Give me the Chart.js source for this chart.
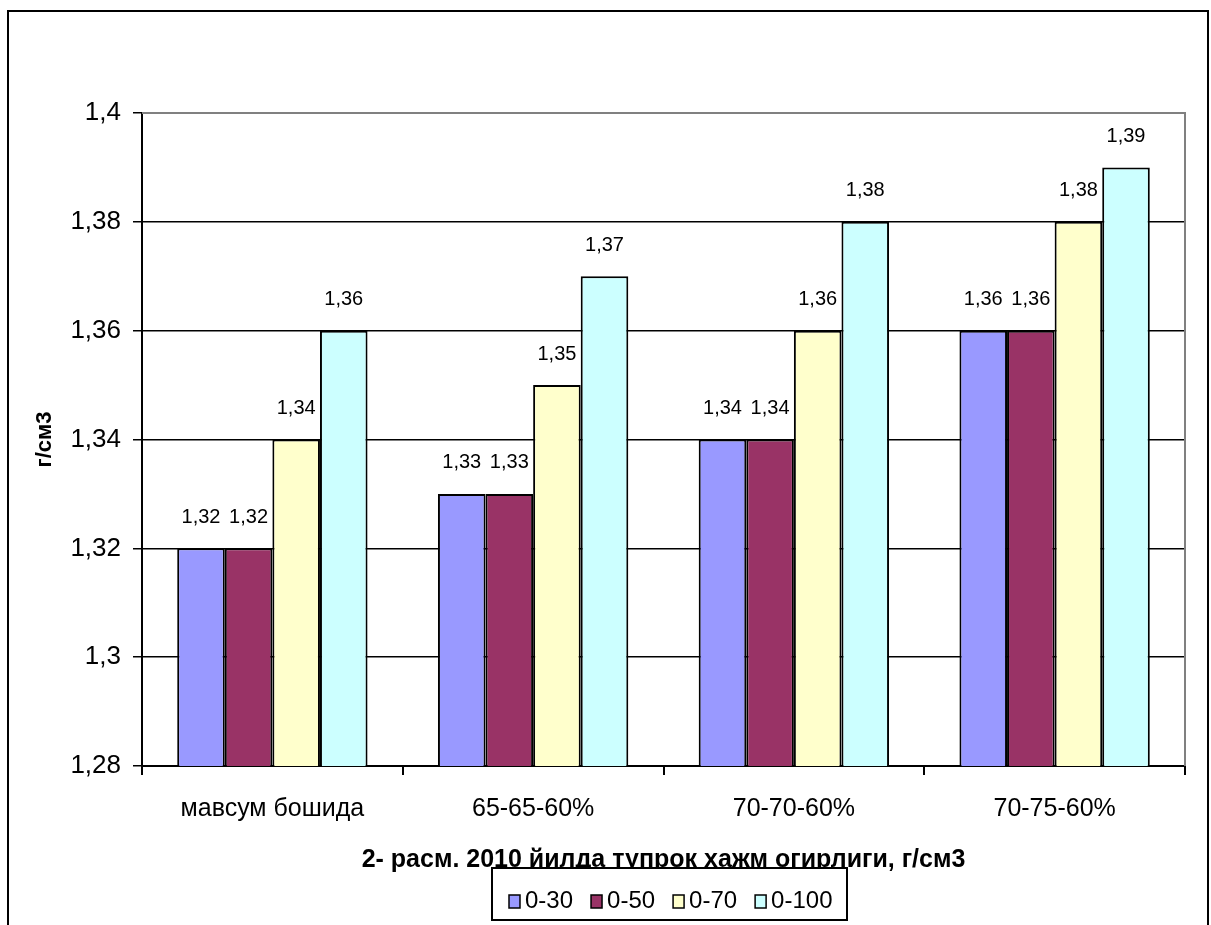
<!DOCTYPE html>
<html>
<head>
<meta charset="utf-8">
<script src="https://cdn.jsdelivr.net/npm/chart.js@4.4.0/dist/chart.umd.min.js"></script>
<style>
  html, body { margin: 0; padding: 0; background: #fff; }
</style>
</head>
<body>
<canvas id="chart" width="1211" height="925"></canvas>
<script>
// chart data
const categories = ['мавсум бошида', '65-65-60%', '70-70-60%', '70-75-60%'];
const seriesNames = ['0-30', '0-50', '0-70', '0-100'];
const depth0to30 = [1.32, 1.33, 1.34, 1.36];
const depth0to50 = [1.32, 1.33, 1.34, 1.36];
const depth0to70 = [1.34, 1.35, 1.36, 1.38];
const depth0to100 = [1.36, 1.37, 1.38, 1.39];
const seriesColors = ['#9999FF', '#993366', '#FFFFCC', '#CCFFFF'];
const yMin = 1.28, yMax = 1.4, yStep = 0.02;

const FONT = "'Liberation Sans', Arial, sans-serif";
const fmt = v => String(Math.round(v * 100) / 100).replace('.', ',');

const seriesValues = [depth0to30, depth0to50, depth0to70, depth0to100];

// value labels above each bar
const barLabels = {
  id: 'barLabels',
  afterDatasetsDraw(chart) {
    const { ctx } = chart;
    ctx.save();
    ctx.font = `20px ${FONT}`;
    ctx.fillStyle = '#000';
    ctx.textAlign = 'center';
    ctx.textBaseline = 'middle';
    chart.data.datasets.forEach((ds, i) => {
      chart.getDatasetMeta(i).data.forEach((bar, j) => {
        ctx.fillText(fmt(ds.data[j]), bar.x, bar.y - 31);
      });
    });
    ctx.restore();
  }
};

// outer frame, plot border, boxed legend over the title
const frameAndLegend = {
  id: 'frameAndLegend',
  afterDraw(chart) {
    const { ctx, chartArea: a } = chart;
    ctx.save();
    ctx.lineWidth = 2;
    ctx.strokeStyle = '#808080';
    ctx.beginPath();
    ctx.moveTo(a.left, a.top);
    ctx.lineTo(a.right, a.top);
    ctx.lineTo(a.right, a.bottom);
    ctx.stroke();

    ctx.strokeStyle = '#000';
    ctx.strokeRect(8, 11, 1200, 1000);

    // legend box
    const box = { x: 492, y: 868, w: 355, h: 52 };
    ctx.fillStyle = '#fff';
    ctx.fillRect(box.x, box.y, box.w, box.h);
    ctx.lineWidth = 2;
    ctx.strokeRect(box.x, box.y, box.w, box.h);

    ctx.font = `24px ${FONT}`;
    ctx.textBaseline = 'middle';
    ctx.textAlign = 'left';
    let x = box.x + 17;
    const cy = 901;
    chart.data.datasets.forEach(ds => {
      ctx.fillStyle = ds.backgroundColor;
      ctx.fillRect(x, cy - 6, 11, 13);
      ctx.lineWidth = 1.5;
      ctx.strokeStyle = '#000';
      ctx.strokeRect(x, cy - 6, 11, 13);
      ctx.fillStyle = '#000';
      ctx.fillText(ds.label, x + 16, cy);
      x += 16 + ctx.measureText(ds.label).width + 18;
    });
    ctx.restore();
  }
};

new Chart(document.getElementById('chart'), {
  type: 'bar',
  data: {
    labels: categories,
    datasets: seriesNames.map((name, i) => ({
      label: name,
      data: seriesValues[i],
      backgroundColor: seriesColors[i],
      borderColor: '#000',
      borderWidth: 2,
      borderSkipped: false,
      categoryPercentage: 0.73,
      barPercentage: 1.0
    }))
  },
  options: {
    responsive: false,
    animation: false,
    layout: { padding: { left: 0, top: 113, right: 26, bottom: 0 } },
    plugins: {
      legend: { display: false },
      tooltip: { enabled: false }
    },
    scales: {
      x: {
        afterFit(scale) { scale.height = 159; },
        grid: { drawOnChartArea: false, color: '#000', lineWidth: 2, tickLength: 9, offset: true },
        border: { color: '#000', width: 2 },
        ticks: { color: '#000', font: { family: FONT, size: 25 }, padding: 19, maxRotation: 0 },
        title: {
          display: true,
          text: '2- расм. 2010 йилда тупрок хажм огирлиги, г/см3',
          color: '#000',
          font: { family: FONT, size: 25, weight: 'bold' },
          padding: { top: 0, bottom: 50 }
        }
      },
      y: {
        min: yMin,
        max: yMax,
        afterFit(scale) { scale.width = 142; },
        grid: { color: '#000', lineWidth: 1.5, tickLength: 9 },
        border: { color: '#000', width: 2 },
        ticks: { stepSize: yStep, color: '#000', font: { family: FONT, size: 26 }, padding: 12, callback: v => fmt(v) },
        title: {
          display: true,
          text: 'г/см3',
          color: '#000',
          font: { family: FONT, size: 22, weight: 'bold' },
          padding: { top: 32, bottom: 0 }
        }
      }
    }
  },
  plugins: [barLabels, frameAndLegend]
});
</script>
</body>
</html>
